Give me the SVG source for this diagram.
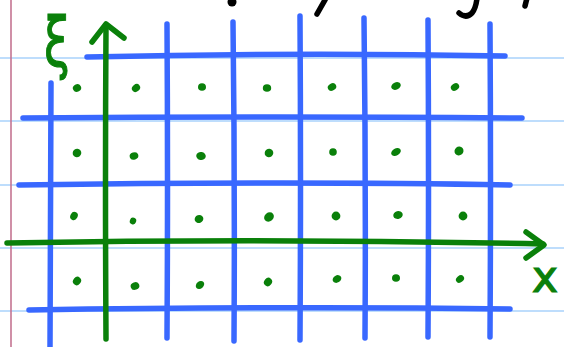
<svg xmlns="http://www.w3.org/2000/svg" width="564" height="347" viewBox="0 0 564 347">
<style>
.paper{stroke:#a9d2fb;stroke-width:1.6;fill:none}
.margin{stroke:#c47491;stroke-width:1.6;fill:none}
.grid{stroke:#3968ff;stroke-width:5.5;stroke-linecap:round;fill:none}
.axis{stroke:#0a800a;stroke-width:5.5;stroke-linecap:round;stroke-linejoin:round;fill:none}
.dot{fill:#0a800a}
.ink{stroke:#000;stroke-width:5.5;stroke-linecap:round;fill:none}
.lbl{fill:#0a800a;stroke:#0a800a;stroke-width:1.2;font-family:"DejaVu Sans",sans-serif}
</style>
<rect width="564" height="347" fill="#fff"/>
<g id="paper">
<line class="paper" x1="0" y1="58" x2="564" y2="58"/>
<line class="paper" x1="0" y1="121" x2="564" y2="121"/>
<line class="paper" x1="0" y1="185" x2="564" y2="185"/>
<line class="paper" x1="0" y1="248" x2="564" y2="248"/>
<line class="paper" x1="0" y1="311" x2="564" y2="311"/>
<line class="margin" x1="11" y1="0" x2="11" y2="347"/>
</g>
<g id="scribbles">
<circle cx="232" cy="2" r="4.5" fill="#000"/>
<path class="ink" d="M325 0 L317 14"/>
<path class="ink" d="M477 -2 Q476 8 472 13 Q466 19 459 13"/>
<path class="ink" d="M527 -2 L525 6"/>
</g>
<g id="grid">
<path class="grid" d="M51 83 L50 350"/>
<path class="grid" d="M167 24 Q168 180 167 338"/>
<path class="grid" d="M233 22 Q235 180 234 341"/>
<path class="grid" d="M300 16 Q301 180 300 340"/>
<path class="grid" d="M364 18 Q366 180 365 338"/>
<path class="grid" d="M428 20 Q429 180 428 337"/>
<path class="grid" d="M490 24 Q491 180 490 337"/>
<path class="grid" d="M87 57 Q300 52 505 56"/>
<path class="grid" d="M23 118 Q280 116 522 118"/>
<path class="grid" d="M19 185 Q300 181 510 185"/>
<path class="grid" d="M29 310 Q300 306 510 309"/>
</g>
<g id="axes">
<path class="axis" d="M106 25 Q105 180 106 339"/>
<path class="axis" d="M92 42 L106 24 L124 38"/>
<path class="axis" d="M7 243 Q270 238 543 244"/>
<path class="axis" d="M526 232 L544 245 L526 258"/>
</g>
<g id="dots">
<ellipse class="dot" cx="77" cy="88" rx="4.2" ry="3.8" transform="rotate(-30 77 88)"/>
<ellipse class="dot" cx="136" cy="88" rx="4.4" ry="3.6" transform="rotate(-40 136 88)"/>
<ellipse class="dot" cx="202" cy="87" rx="4" ry="3.8"/>
<ellipse class="dot" cx="267" cy="88" rx="4.2" ry="3.8"/>
<ellipse class="dot" cx="332" cy="87" rx="4.4" ry="3.6" transform="rotate(-30 332 87)"/>
<ellipse class="dot" cx="396" cy="86" rx="5" ry="3.6" transform="rotate(-25 396 86)"/>
<ellipse class="dot" cx="455" cy="87" rx="4.4" ry="3.4" transform="rotate(-30 455 87)"/>
<ellipse class="dot" cx="77" cy="153" rx="4.4" ry="4.2" transform="rotate(-40 77 153)"/>
<ellipse class="dot" cx="134" cy="156" rx="4.4" ry="3.6" transform="rotate(-20 134 156)"/>
<ellipse class="dot" cx="201" cy="156" rx="4.8" ry="4" transform="rotate(10 201 156)"/>
<ellipse class="dot" cx="269" cy="153" rx="4.4" ry="4.2" transform="rotate(-40 269 153)"/>
<ellipse class="dot" cx="333" cy="152" rx="3.8" ry="3.8"/>
<ellipse class="dot" cx="396" cy="152" rx="5.2" ry="3.6" transform="rotate(-30 396 152)"/>
<ellipse class="dot" cx="459" cy="151" rx="4.6" ry="4.4" transform="rotate(-40 459 151)"/>
<ellipse class="dot" cx="74" cy="216" rx="4.2" ry="3.6" transform="rotate(-60 74 216)"/>
<ellipse class="dot" cx="133" cy="221" rx="3.4" ry="3.2" transform="rotate(-70 133 221)"/>
<ellipse class="dot" cx="199" cy="219" rx="4.4" ry="4" transform="rotate(-20 199 219)"/>
<ellipse class="dot" cx="269" cy="217" rx="5.2" ry="4.4" transform="rotate(-40 269 217)"/>
<ellipse class="dot" cx="336" cy="216" rx="4.4" ry="4.4"/>
<ellipse class="dot" cx="398" cy="215" rx="4.8" ry="4" transform="rotate(-15 398 215)"/>
<ellipse class="dot" cx="463" cy="216" rx="4.4" ry="4.4"/>
<ellipse class="dot" cx="77" cy="281" rx="4.4" ry="3.8" transform="rotate(-50 77 281)"/>
<ellipse class="dot" cx="135" cy="286" rx="4.4" ry="3.8" transform="rotate(-20 135 286)"/>
<ellipse class="dot" cx="200" cy="285" rx="4.6" ry="3.6" transform="rotate(-40 200 285)"/>
<ellipse class="dot" cx="268" cy="282" rx="4.4" ry="3.8" transform="rotate(-50 268 282)"/>
<ellipse class="dot" cx="337" cy="279" rx="4.6" ry="3.6" transform="rotate(-30 337 279)"/>
<ellipse class="dot" cx="396" cy="278" rx="4" ry="3.8"/>
<ellipse class="dot" cx="460" cy="279" rx="4.4" ry="3.4" transform="rotate(-40 460 279)"/>
</g>
<g id="labels">
<text class="lbl" transform="translate(44 66) scale(0.68 1)" x="0" y="0" font-size="68">ξ</text>
<text class="lbl" x="532" y="292" font-size="44">x</text>
</g>
</svg>
